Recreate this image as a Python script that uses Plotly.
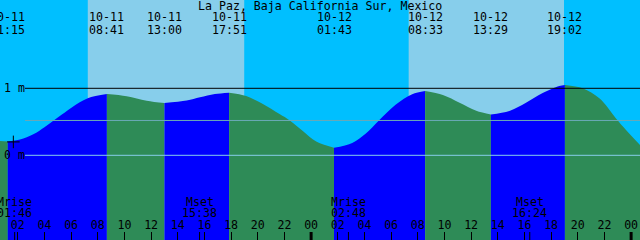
import plotly.graph_objects as go

# ---------------- data ----------------
station = "La Paz, Baja California Sur, Mexico"
x_start = "2024-10-11 00:40"
x_end = "2024-10-13 00:40"

curve_times = [
    "2024-10-11 00:40", "2024-10-11 01:15", "2024-10-11 02:10", "2024-10-11 03:10",
    "2024-10-11 04:00", "2024-10-11 04:40", "2024-10-11 05:20", "2024-10-11 06:03",
    "2024-10-11 07:15", "2024-10-11 08:41", "2024-10-11 10:10", "2024-10-11 11:40",
    "2024-10-11 13:00", "2024-10-11 14:40", "2024-10-11 15:40", "2024-10-11 16:47",
    "2024-10-11 17:51", "2024-10-11 19:08", "2024-10-11 20:23", "2024-10-11 21:38",
    "2024-10-11 22:24", "2024-10-11 23:24", "2024-10-12 00:23", "2024-10-12 01:43",
    "2024-10-12 03:05", "2024-10-12 04:05", "2024-10-12 05:05", "2024-10-12 06:20",
    "2024-10-12 07:35", "2024-10-12 08:33", "2024-10-12 09:53", "2024-10-12 11:08",
    "2024-10-12 12:23", "2024-10-12 13:29", "2024-10-12 14:52", "2024-10-12 16:07",
    "2024-10-12 17:22", "2024-10-12 18:37", "2024-10-12 19:02", "2024-10-12 20:22",
    "2024-10-12 21:37", "2024-10-12 22:52", "2024-10-12 23:37", "2024-10-13 00:40",
]
curve_heights = [
    0.212, 0.205, 0.235, 0.315,
    0.42, 0.515, 0.612, 0.715,
    0.852, 0.915, 0.882, 0.815,
    0.78, 0.817, 0.866, 0.915,
    0.935, 0.886, 0.765, 0.615,
    0.52, 0.36, 0.205, 0.113,
    0.185, 0.32, 0.52, 0.755,
    0.912, 0.96, 0.90, 0.785,
    0.665, 0.61, 0.662, 0.785,
    0.93, 1.035, 1.05, 1.0,
    0.85, 0.55, 0.378, 0.154,
]

extreme_times = ["2024-10-11 01:15", "2024-10-11 08:41", "2024-10-11 13:00", "2024-10-11 17:51",
                 "2024-10-12 01:43", "2024-10-12 08:33", "2024-10-12 13:29", "2024-10-12 19:02"]
extreme_dates = ["10-11", "10-11", "10-11", "10-11", "10-12", "10-12", "10-12", "10-12"]
extreme_clock = ["01:15", "08:41", "13:00", "17:51", "01:43", "08:33", "13:29", "19:02"]

sunrise_times = ["2024-10-11 07:15", "2024-10-12 07:19"]
sunset_times = ["2024-10-11 18:59", "2024-10-12 18:58"]

moon_times = ["2024-10-11 01:46", "2024-10-11 15:38", "2024-10-12 02:48", "2024-10-12 16:24"]
moon_kinds = ["Mrise", "Mset", "Mrise", "Mset"]
moon_clock = ["01:46", "15:38", "02:48", "16:24"]

tick_times = [
    "2024-10-11 02:00", "2024-10-11 04:00", "2024-10-11 06:00", "2024-10-11 08:00",
    "2024-10-11 10:00", "2024-10-11 12:00", "2024-10-11 14:00", "2024-10-11 16:00",
    "2024-10-11 18:00", "2024-10-11 20:00", "2024-10-11 22:00", "2024-10-12 00:00",
    "2024-10-12 02:00", "2024-10-12 04:00", "2024-10-12 06:00", "2024-10-12 08:00",
    "2024-10-12 10:00", "2024-10-12 12:00", "2024-10-12 14:00", "2024-10-12 16:00",
    "2024-10-12 18:00", "2024-10-12 20:00", "2024-10-12 22:00", "2024-10-13 00:00",
]
tick_labels = ["02", "04", "06", "08", "10", "12", "14", "16", "18", "20", "22", "00",
               "02", "04", "06", "08", "10", "12", "14", "16", "18", "20", "22", "00"]
midnight_times = ["2024-10-12 00:00", "2024-10-13 00:00"]

level_values = [1.0, 0.52, 0.0]
level_labels = ["1 m", "", "0 m"]

now_time = "2024-10-11 01:40"
now_height = 0.20

# ---------------- style ----------------
FONT = dict(family="DejaVu Sans Mono", size=11.6, color="black")
NIGHT = "#00BFFF"
DAY = "#87CEEB"
FLOOD = "#0000FF"
EBB = "#2E8B57"
LEVEL_COLORS = ["black", "#6AA9B6", "#87CEEB"]
Y_RANGE = [-1.264, 2.318]
FLOOR = -1.4
H = 240.0

fig = go.Figure()

# water segments between extremes
boundaries = [0] + [curve_times.index(t) for t in extreme_times] + [len(curve_times) - 1]
for a, b in zip(boundaries[:-1], boundaries[1:]):
    if a == b:
        continue
    xs = curve_times[a:b + 1]
    ys = curve_heights[a:b + 1]
    color = FLOOD if ys[-1] > ys[0] else EBB
    fig.add_trace(go.Scatter(x=[xs[0], xs[-1]], y=[FLOOR, FLOOR], mode="lines",
                             line=dict(width=0), hoverinfo="skip", showlegend=False))
    fig.add_trace(go.Scatter(x=xs, y=ys, mode="lines", fill="tonexty", fillcolor=color,
                             line=dict(width=0, shape="spline", smoothing=1.0),
                             hoverinfo="skip", showlegend=False))

# current-time marker
fig.add_trace(go.Scatter(x=[now_time], y=[now_height], mode="markers",
                         marker=dict(symbol="cross-thin", size=9,
                                     line=dict(color="black", width=1)),
                         hoverinfo="skip", showlegend=False))

shapes = []
for sr, ss in zip(sunrise_times, sunset_times):
    shapes.append(dict(type="rect", xref="x", yref="paper", x0=sr, x1=ss, y0=0, y1=1,
                       fillcolor=DAY, line=dict(width=0), layer="below"))
for lv, col in zip(level_values, LEVEL_COLORS):
    shapes.append(dict(type="line", xref="paper", yref="y", x0=25 / 640, x1=1, y0=lv, y1=lv,
                       line=dict(color=col, width=1), layer="above"))
for t in moon_times:
    shapes.append(dict(type="line", xref="x", yref="paper", x0=t, x1=t, y0=0, y1=8 / H,
                       line=dict(color="black", width=1), layer="above"))
for t in midnight_times:
    shapes.append(dict(type="line", xref="x", yref="paper", x0=t, x1=t, y0=0, y1=8 / H,
                       line=dict(color="black", width=3), layer="above"))

annotations = [dict(text=station, x=0.5, xref="paper", y=1 - 5.5 / H, yref="paper",
                    xanchor="center", yanchor="middle", showarrow=False, font=FONT)]
for t, d, c in zip(extreme_times, extreme_dates, extreme_clock):
    annotations.append(dict(text=d, x=t, xref="x", y=1 - 17 / H, yref="paper",
                            xanchor="center", yanchor="middle", showarrow=False, font=FONT))
    annotations.append(dict(text=c, x=t, xref="x", y=1 - 30 / H, yref="paper",
                            xanchor="center", yanchor="middle", showarrow=False, font=FONT))
for t, k, c in zip(moon_times, moon_kinds, moon_clock):
    annotations.append(dict(text=k, x=t, xref="x", y=1 - 202 / H, yref="paper",
                            xanchor="center", yanchor="middle", showarrow=False, font=FONT))
    annotations.append(dict(text=c, x=t, xref="x", y=1 - 213 / H, yref="paper",
                            xanchor="center", yanchor="middle", showarrow=False, font=FONT))
for lv, lab in zip(level_values, level_labels):
    if lab:
        annotations.append(dict(text=lab, x=2 / 640, xref="paper", y=lv, yref="y",
                                xanchor="left", yanchor="middle", showarrow=False, font=FONT))

fig.update_layout(
    width=640, height=240, margin=dict(l=0, r=0, t=0, b=0),
    paper_bgcolor=NIGHT, plot_bgcolor=NIGHT,
    shapes=shapes, annotations=annotations, showlegend=False,
    xaxis=dict(range=[x_start, x_end], type="date", showgrid=False, zeroline=False,
               showline=False, tickmode="array", tickvals=tick_times, ticktext=tick_labels,
               ticks="inside", ticklen=8, tickwidth=1, tickcolor="black",
               ticklabelposition="inside", tickfont=FONT, fixedrange=True),
    yaxis=dict(range=Y_RANGE, showgrid=False, zeroline=False, showline=False,
               showticklabels=False, ticks="", fixedrange=True),
)

fig.write_html("out.html")
